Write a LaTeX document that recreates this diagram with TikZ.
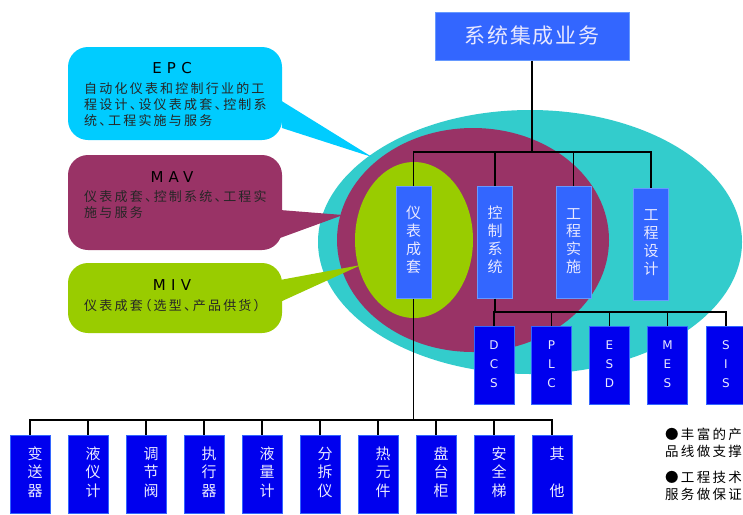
\documentclass[tikz,border=0pt]{standalone}
\usepackage{fontspec}
\setmainfont{Noto Sans CJK SC}
\newfontfamily\cjksp[LetterSpace=17,RawFeature=+halt]{Noto Sans CJK SC}
\newfontfamily\cjkn[LetterSpace=17]{Noto Sans CJK SC}
\newfontfamily\cjktop[LetterSpace=8]{Noto Sans CJK SC}
\newfontfamily\ttl[LetterSpace=35]{DejaVu Sans}
\newfontfamily\lat{DejaVu Sans}
\definecolor{teal1}{HTML}{33CCCC}
\definecolor{maroon1}{HTML}{993366}
\definecolor{green1}{HTML}{99CC00}
\definecolor{cyan1}{HTML}{00CCFF}
\definecolor{blueA}{HTML}{3366FF}
\definecolor{blueAb}{HTML}{6699FF}
\definecolor{blueB}{HTML}{0000EE}
\definecolor{txtL}{HTML}{E8E8FF}
\tikzset{
  topbox/.style={fill=blueA,draw=blueAb,line width=1pt,minimum width=194pt,minimum height=48pt,text=txtL,font=\cjktop\fontsize{21}{23}\selectfont,inner sep=0pt},
  midbox/.style={fill=blueA,draw=blueAb,line width=1pt,minimum width=35pt,minimum height=112pt,text=txtL,align=center,font=\fontsize{15}{17.5}\selectfont,inner sep=0pt},
  subbox/.style={fill=blueB,draw=blueA,line width=1pt,minimum width=40pt,minimum height=78pt,text=txtL,align=center,inner sep=0pt},
  cnbox/.style={subbox,font=\fontsize{15}{18.5}\selectfont},
  enbox/.style={subbox,font=\lat\fontsize{12}{19}\selectfont},
  conn/.style={draw=black,line width=1.3pt},
  ctitle/.style={font=\ttl\fontsize{15}{17}\selectfont,text=black,inner sep=0pt},
  ctext/.style={font=\cjksp\fontsize{13}{16}\selectfont,text=black!85,align=left,inner sep=0pt,anchor=north west},
  ntext/.style={ctext,text=black,font=\cjkn\fontsize{13.5}{17}\selectfont},
}
\newcommand{\vstack}[2]{\raisebox{#1}{\begin{tabular}{@{}c@{}}#2\end{tabular}}}
\begin{document}
\begin{tikzpicture}[x=1pt,y=-1pt]
\useasboundingbox (0,0) rectangle (743,514);
\fill[white] (0,0) rectangle (743,514);
% ellipses
\fill[teal1] (530,242) ellipse [x radius=212, y radius=132];
\fill[maroon1] (473,240) ellipse [x radius=136, y radius=112];
\fill[green1] (414,240) ellipse [x radius=59, y radius=78];
% callouts
\fill[cyan1,rounded corners=20pt] (68,47) rectangle (282,140);
\fill[cyan1] (280,100) -- (282,128) -- (372,157) -- cycle;
\fill[maroon1,rounded corners=20pt] (68,155) rectangle (282,250);
\fill[maroon1] (280,210) -- (280,238) -- (343,215) -- cycle;
\fill[green1,rounded corners=20pt] (68,263) rectangle (282,333);
\fill[green1] (280,280) -- (280,302) -- (361,265) -- cycle;
\node[ctitle] (epct) at (172,68) {EPC};
\node[ctext] (epcx) at (84,82) {自动化仪表和控制行业的工\\程设计、设仪表成套、控制系\\统、工程实施与服务};
\node[ctitle] (mavt) at (172,177) {MAV};
\node[ctext] (mavx) at (84,190) {仪表成套、控制系统、工程实\\施与服务};
\node[ctitle] (mivt) at (172,285) {MIV};
\node[ctext] (mivx) at (84,299) {仪表成套（选型、产品供货）};
% boxes
\node[topbox] (top) at (532,36) {系统集成业务};
\node[midbox] (v1) at (413.5,242) {\vstack{10pt}{仪\\表\\成\\套}};
\node[midbox] (v2) at (495,242) {\vstack{10pt}{控\\制\\系\\统}};
\node[midbox] (v3) at (573.5,242.5) {\vstack{10pt}{工\\程\\实\\施}};
\node[midbox] (v4) at (651,244) {\vstack{10pt}{工\\程\\设\\计}};
\foreach \n/\x/\t in {d1/494/D\\C\\S, d2/551.5/P\\L\\C, d3/609.5/E\\S\\D, d4/667.5/M\\E\\S, d5/726/S\\I\\S}
  \node[enbox] (\n) at (\x,365) {\vstack{6pt}{\t}};
\foreach \n/\x/\t in {b1/30/变\\送\\器, b2/88/液\\仪\\计, b3/146/调\\节\\阀, b4/204/执\\行\\器, b5/262/液\\量\\计, b6/320/分\\拆\\仪, b7/378/热\\元\\件, b8/436/盘\\台\\柜, b9/494/安\\全\\梯, b10/552/其\\\strut\\他}
  \node[cnbox] (\n) at (\x,474) {\hspace*{10pt}\vstack{3pt}{\t}};
% connectors
\coordinate (h1) at (532,152);
\coordinate (h2) at (495,312);
\coordinate (h3) at (413.5,420);
\draw[conn] (top.south) -- (h1);
\foreach \n in {v1,v2,v3,v4} \draw[conn] (h1) -| (\n.north);
\draw[conn] (v2.south) -- (h2);
\foreach \n in {d1,d2,d3,d4,d5} \draw[conn] (h2) -| (\n.north);
\draw[conn] (v1.south) -- (h3);
\foreach \n in {b1,b2,b3,b4,b5,b6,b7,b8,b9,b10} \draw[conn] (h3) -| (\n.north);
% side notes
\node[ntext] (note1) at (665,428) {●丰富的产\\品线做支撑};
\node[ntext] (note2) at (665,471) {●工程技术\\服务做保证};
\end{tikzpicture}
\end{document}
